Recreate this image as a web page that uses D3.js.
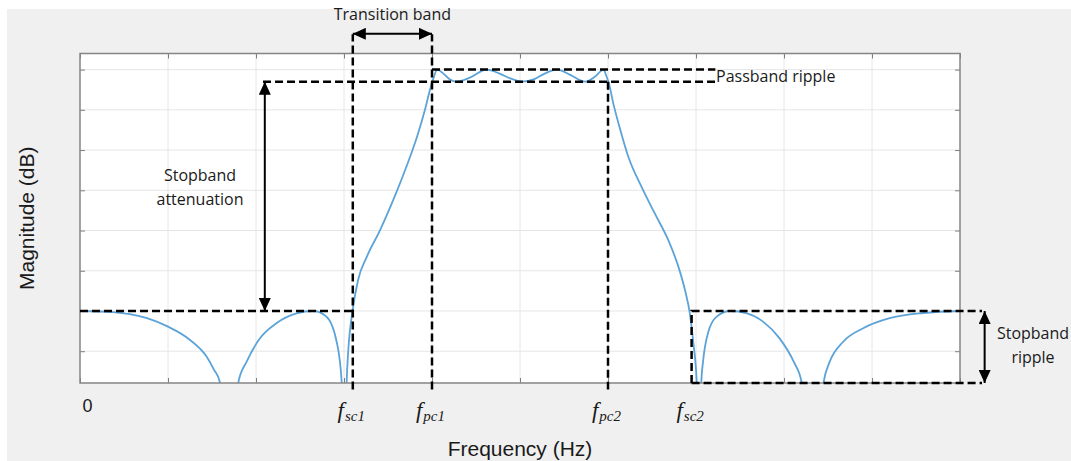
<!DOCTYPE html>
<html lang="en">
<head>
<meta charset="UTF-8">
<title>Bandpass filter specification</title>
<script src="https://cdn.jsdelivr.net/npm/d3@7"></script>
<style>
  body { margin: 0; background: #fff; }
  text { fill: #1a1a1a; }
</style>
</head>
<body>
<script>
// frequency in grid units (0..10), magnitude in dB
const freq = [0, 0.375, 0.761, 1.0, 1.25, 1.44, 1.52, 1.59, 1.68, 1.80, 1.894, 2.045, 2.235, 2.46, 2.65, 2.80, 2.917, 2.974, 3.0, 3.03, 3.049, 3.097,
  3.16, 3.26, 3.41, 3.56, 3.71, 3.83, 3.92, 3.977, 4.01, 4.06, 4.13, 4.20, 4.28, 4.43, 4.62, 4.77, 4.89, 5.02, 5.17, 5.28, 5.42, 5.57, 5.74, 5.85, 5.95,
  5.98, 6.01, 6.06, 6.14, 6.23, 6.38, 6.53, 6.685, 6.80, 6.875, 6.93, 6.97, 7.008, 7.03, 7.06, 7.08, 7.14, 7.235, 7.39, 7.58, 7.765, 7.95, 8.11, 8.20,
  8.32, 8.45, 8.52, 8.67, 8.90, 9.20, 9.58, 10.0];
const magDb = [-60, -60.3, -61.8, -63.9, -67.2, -71.4, -74.5, -77.7, -110, -77.7, -72.6, -66.8, -63.0, -60.6, -60.0, -61.4, -67.7, -77.7, -110, -77.7, -69.7, -60,
  -52.3, -46.5, -39.9, -32.4, -24.1, -16.7, -10, -5, -2.6, 0, -1.0, -2.4, -3, -2.0, 0, -1.0, -2.2, -3, -2.3, -1.0, 0, -1.3, -3, -1.8, 0,
  -1.5, -3.4, -8.4, -15, -21.6, -29.1, -35.7, -42.4, -49, -54.8, -60.6, -68, -77.7, -110, -77.7, -72.6, -65.2, -61.4, -60, -60.6, -62.7, -66.8, -72.6, -77.7,
  -110, -77.7, -72.6, -67.7, -64.3, -61.8, -60.5, -60];

const gridFreq = [0, 1, 2, 3, 4, 5, 6, 7, 8, 9, 10];
const gridDb = [-70, -60, -50, -40, -30, -20, -10, 0];

const tickFreq = [0, 3.1, 4.0, 6.0, 6.95];
const tickSub = ['', 'sc1', 'pc1', 'pc2', 'sc2'];

const passbandDb = [0, -3];
const stopbandDb = -60;

const W = 1071, H = 461;
const svg = d3.select('body').append('svg').attr('width', W).attr('height', H);

svg.append('rect').attr('x', 7).attr('y', 9).attr('width', W - 7).attr('height', H - 9).attr('fill', '#f0f0f0');

const x = d3.scaleLinear().domain([0, 10]).range([80, 960]);
const y = d3.scaleLinear().domain([-77.9, 4.0]).range([383, 53.5]);
const [x0, x1] = x.range(), [y0, y1] = y.range();

svg.append('rect').attr('x', x0).attr('y', y1).attr('width', x1 - x0).attr('height', y0 - y1).attr('fill', '#fff');

// grid
const grid = svg.append('g').attr('stroke', '#e6e6e6').attr('stroke-width', 1);
grid.selectAll('.gx').data(gridFreq.slice(1, -1)).join('line')
  .attr('x1', d => x(d)).attr('x2', d => x(d)).attr('y1', y0).attr('y2', y1);
grid.selectAll('.gy').data(gridDb).join('line')
  .attr('y1', d => y(d)).attr('y2', d => y(d)).attr('x1', x0).attr('x2', x1);

// box ticks, pointing inward on all four sides
const tk = 5;
const boxAxes = [
  [d3.axisBottom(x).tickValues(gridFreq), `translate(0,${y0})`, 'y2', -tk],
  [d3.axisTop(x).tickValues(gridFreq), `translate(0,${y1})`, 'y2', tk],
  [d3.axisLeft(y).tickValues(gridDb), `translate(${x0},0)`, 'x2', tk],
  [d3.axisRight(y).tickValues(gridDb), `translate(${x1},0)`, 'x2', -tk]
];
boxAxes.forEach(([a, tr, attr, len]) => {
  const g = svg.append('g').attr('transform', tr).call(a.tickFormat(''));
  g.select('.domain').remove();
  g.selectAll('line').attr('stroke', '#7f7f7f').attr(attr, len);
});

// response curve
svg.append('clipPath').attr('id', 'plotclip').append('rect')
  .attr('x', x0).attr('y', y1).attr('width', x1 - x0).attr('height', y0 - y1);
const line = d3.line().x(d => x(d[0])).y(d => y(d[1])).curve(d3.curveMonotoneX);
svg.append('path')
  .attr('d', line(d3.zip(freq, magDb)))
  .attr('clip-path', 'url(#plotclip)')
  .attr('fill', 'none').attr('stroke', '#5ba3d9').attr('stroke-width', 1.8);

svg.append('rect').attr('x', x0).attr('y', y1).attr('width', x1 - x0).attr('height', y0 - y1)
  .attr('fill', 'none').attr('stroke', '#858585').attr('stroke-width', 1.5);

// x tick labels
const xa = svg.append('g').attr('transform', `translate(0,${y0})`)
  .call(d3.axisBottom(x).tickValues(tickFreq).tickSize(0).tickFormat(''));
xa.select('.domain').remove();
xa.selectAll('.tick').each(function(d, i) {
  const t = d3.select(this).append('text').attr('text-anchor', 'middle');
  if (i == 0) {
    t.attr('x', 7).attr('y', 29).style('font', '18px "Liberation Sans", Arial, sans-serif').text('0');
  } else {
    t.attr('x', -2).attr('y', 35).style('font', 'italic 23px "Liberation Serif", "DejaVu Serif", serif');
    t.append('tspan').text('f');
    t.append('tspan').attr('dx', 1).attr('dy', 3).style('font-size', '15px').text(tickSub[i]);
  }
});

// axis titles
svg.append('text').attr('x', (x0 + x1) / 2).attr('y', 456).attr('text-anchor', 'middle')
  .style('font', '21px "Liberation Sans", Arial, sans-serif').text('Frequency (Hz)');
svg.append('text').attr('transform', `translate(34,${(y0 + y1) / 2}) rotate(-90)`).attr('text-anchor', 'middle')
  .style('font', '21px "Liberation Sans", Arial, sans-serif').text('Magnitude (dB)');

// annotations
const fsc1 = tickFreq[1], fpc1 = tickFreq[2], fpc2 = tickFreq[3], fsc2 = tickFreq[4];
const below = -79.5, topDb = 8.8, yMin = y.domain()[0];
const dashSegs = [
  [[0, stopbandDb], [fsc1, stopbandDb]],
  [[fsc1, below], [fsc1, topDb]],
  [[fpc1, below], [fpc1, topDb]],
  [[fpc1, passbandDb[0]], [7.22, passbandDb[0]]],
  [[2.08, passbandDb[1]], [7.22, passbandDb[1]]],
  [[fpc2, passbandDb[1]], [fpc2, below]],
  [[fsc2, yMin], [fsc2, stopbandDb], [10.25, stopbandDb]],
  [[fsc2, yMin], [10.25, yMin]]
];
const seg = d3.line().x(d => x(d[0])).y(d => y(d[1]));
svg.append('g').selectAll('path').data(dashSegs).join('path')
  .attr('d', seg).attr('fill', 'none').attr('stroke', '#000')
  .attr('stroke-width', 2.5).attr('stroke-dasharray', '8,4');

svg.append('defs').append('marker').attr('id', 'head')
  .attr('viewBox', '0 0 13 12').attr('refX', 13).attr('refY', 6)
  .attr('markerWidth', 13).attr('markerHeight', 12).attr('markerUnits', 'userSpaceOnUse')
  .attr('orient', 'auto-start-reverse')
  .append('path').attr('d', 'M0,0L13,6L0,12Z').attr('fill', '#000');

const arrows = [
  [[fsc1, 8.9], [fpc1, 8.9]],
  [[2.1, passbandDb[1]], [2.1, stopbandDb]],
  [[10.28, stopbandDb], [10.28, yMin]]
];
svg.append('g').selectAll('path').data(arrows).join('path')
  .attr('d', seg).attr('stroke', '#000').attr('stroke-width', 2)
  .attr('marker-start', 'url(#head)').attr('marker-end', 'url(#head)');

const note = '16px "Open Sans", "Noto Sans", sans-serif';
const notes = [
  {t: 'Transition band', x: x((fsc1 + fpc1) / 2), y: 20, a: 'middle'},
  {t: 'Passband ripple', x: 716, y: 82, a: 'start'},
  {t: 'Stopband', x: 200, y: 181, a: 'middle'},
  {t: 'attenuation', x: 200, y: 205, a: 'middle'},
  {t: 'Stopband', x: 1033, y: 339, a: 'middle'},
  {t: 'ripple', x: 1033, y: 363, a: 'middle'}
];
svg.append('g').selectAll('text').data(notes).join('text')
  .attr('x', d => d.x).attr('y', d => d.y).attr('text-anchor', d => d.a)
  .style('font', note).text(d => d.t);
</script>
</body>
</html>
